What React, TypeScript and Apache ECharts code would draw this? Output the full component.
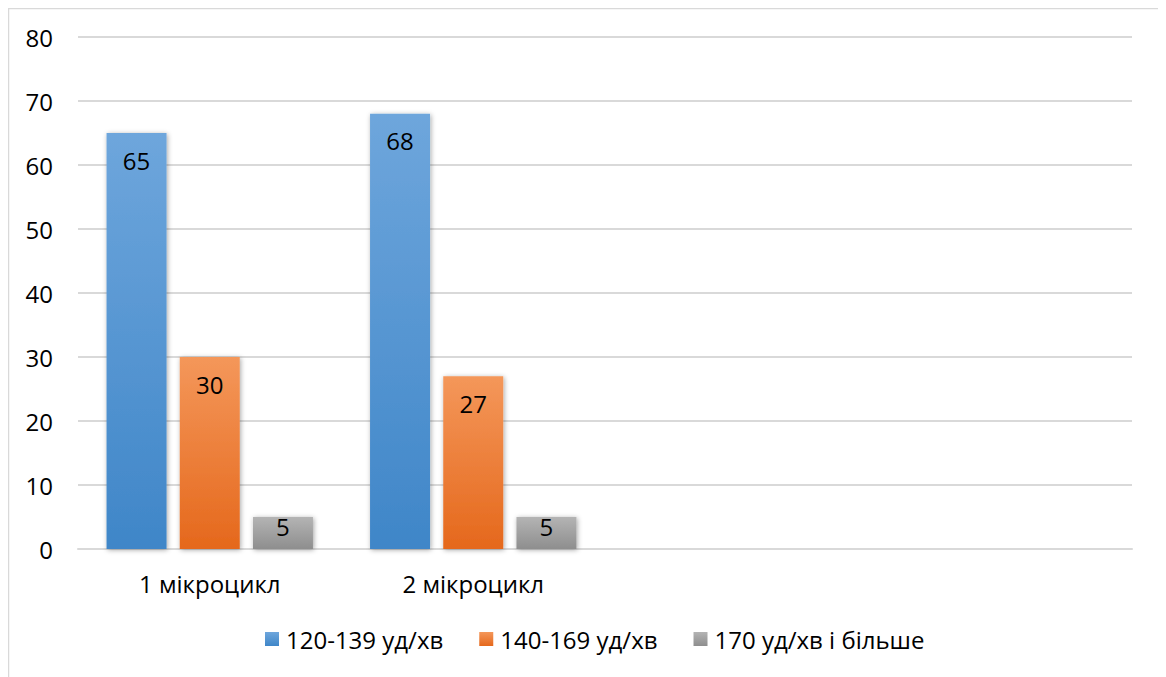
import React, { useEffect, useRef } from "react";
import * as echarts from "echarts";

const categories = ["1 мікроцикл", "2 мікроцикл", "", ""];
const seriesNames = ["120-139 уд/хв", "140-169 уд/хв", "170 уд/хв і більше"];
const values120 = [65, 68, null, null];
const values140 = [30, 27, null, null];
const values170 = [5, 5, null, null];
const yTicks = { min: 0, max: 80, interval: 10 };

const FONT = "'Open Sans', 'Noto Sans', sans-serif";
const FS = 24;

function grad(top: string, bottom: string) {
  return new echarts.graphic.LinearGradient(0, 0, 0, 1, [
    { offset: 0, color: top },
    { offset: 1, color: bottom },
  ]);
}

export default function App() {
  const ref = useRef<HTMLDivElement>(null);
  useEffect(() => {
    if (!ref.current) return;
    const chart = echarts.init(ref.current, undefined, { renderer: "svg" });
    const mkSeries = (name: string, data: (number | null)[], top: string, bottom: string, dist: number) => ({
      name,
      type: "bar",
      data,
      barWidth: 60,
      barGap: "22%",
      itemStyle: {
        color: grad(top, bottom),
        shadowBlur: 5,
        shadowColor: "rgba(0,0,0,0.35)",
        shadowOffsetX: 1,
        shadowOffsetY: 1,
      },
      label: {
        show: true,
        position: "insideTop",
        distance: dist,
        fontFamily: FONT,
        fontSize: FS,
        color: "#000",
      },
    });
    chart.setOption({
      animation: false,
      textStyle: { fontFamily: FONT },
      color: ["#5b9bd5", "#ed7d31", "#a5a5a5"],
      graphic: [
        {
          type: "rect",
          shape: { x: 0.5, y: 0.5, width: 1151, height: 720 },
          style: { fill: "none", stroke: "#d9d9d9", lineWidth: 1.5 },
          silent: true,
        },
      ],
      grid: { left: 70, top: 29, width: 1054, height: 512, containLabel: false },
      legend: {
        top: 614,
        left: 252,
        itemWidth: 14,
        itemHeight: 14,
        itemGap: 36,
        icon: "rect",
        textStyle: { fontFamily: FONT, fontSize: FS, color: "#000", padding: [0, 0, 0, 2] },
        data: [
          { name: seriesNames[0], itemStyle: { color: grad("#6ea6dc", "#3f86c8") } },
          { name: seriesNames[1], itemStyle: { color: grad("#f4975a", "#e5681c") } },
          { name: seriesNames[2], itemStyle: { color: grad("#b4b4b4", "#8e8e8e") } },
        ],
      },
      xAxis: {
        type: "category",
        data: categories,
        axisLine: { show: true, lineStyle: { color: "#d9d9d9", width: 2 } },
        axisTick: { show: false },
        axisLabel: { fontFamily: FONT, fontSize: FS, color: "#000", margin: 22 },
      },
      yAxis: {
        type: "value",
        min: yTicks.min,
        max: yTicks.max,
        interval: yTicks.interval,
        axisLine: { show: false },
        axisTick: { show: false },
        splitLine: { lineStyle: { color: "#d9d9d9", width: 2 } },
        axisLabel: { fontFamily: FONT, fontSize: FS, color: "#000", margin: 25 },
      },
      series: [
        mkSeries(seriesNames[0], values120, "#6ea6dc", "#3f86c8", 15),
        mkSeries(seriesNames[1], values140, "#f4975a", "#e5681c", 15),
        mkSeries(seriesNames[2], values170, "#b4b4b4", "#8e8e8e", -3),
      ],
    });
    return () => chart.dispose();
  }, []);
  return <div ref={ref} style={{ width: 1152, height: 690 }} />;
}
